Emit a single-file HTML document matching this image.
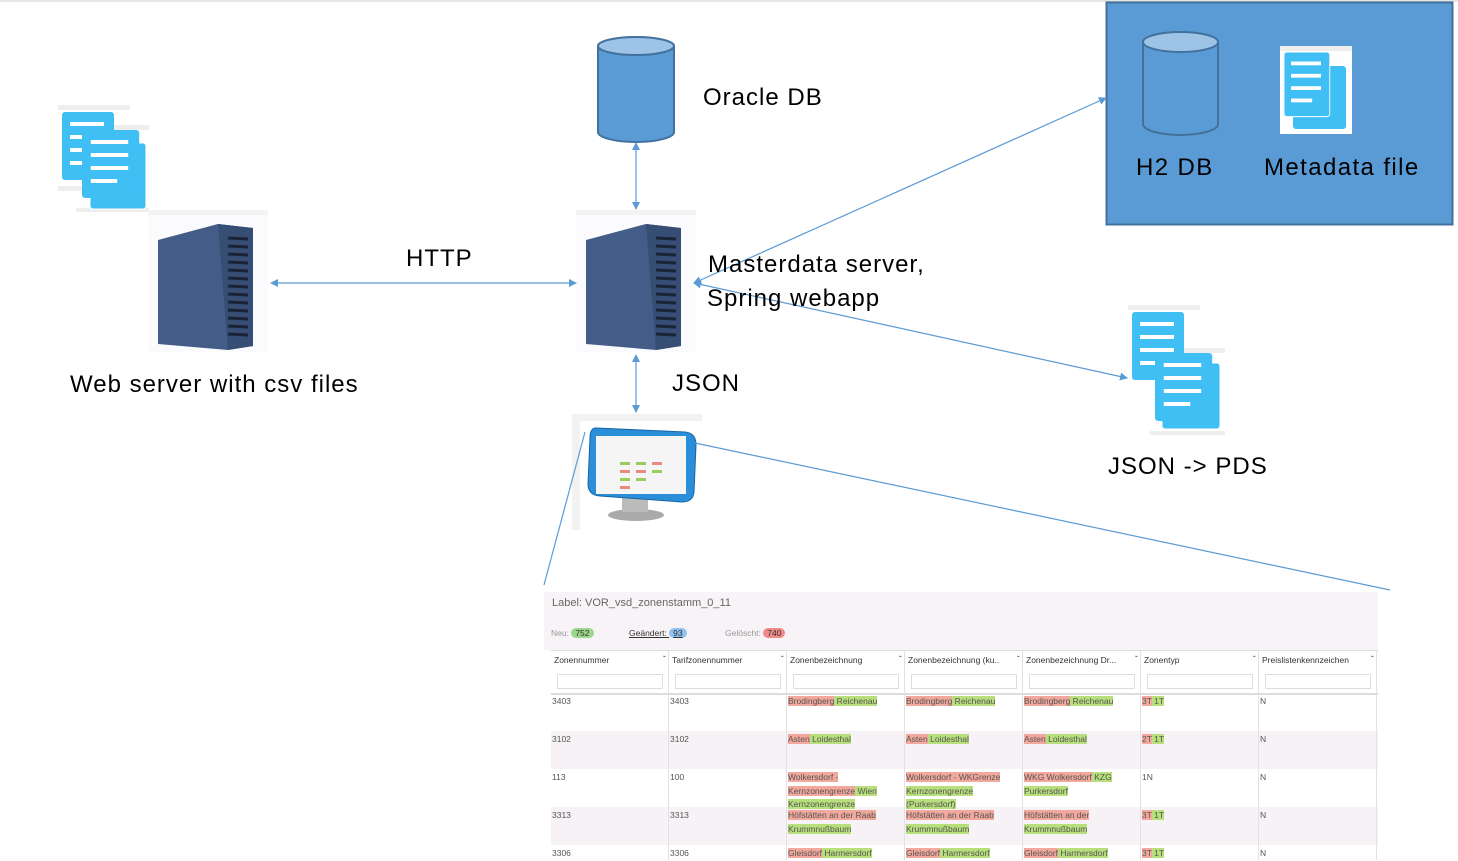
<!DOCTYPE html>
<html><head><meta charset="utf-8"><style>
body{margin:0;width:1458px;height:860px;position:relative;background:#fff;overflow:hidden;font-family:"Liberation Sans",sans-serif}
.t{position:absolute;font-size:24px;color:#000;white-space:nowrap;letter-spacing:1px}
.tbl{position:absolute;left:544px;top:592px;width:834px;height:268px;background:#fff;font-size:8.5px;color:#555}
.c{position:absolute;white-space:nowrap}
.r{background:#f2a89c}.g{background:#b7e07c}
</style></head><body>
<svg width="1458" height="860" style="position:absolute;left:0;top:0">
<defs>
<marker id="a" markerWidth="8" markerHeight="8" refX="7" refY="4" orient="auto-start-reverse" markerUnits="userSpaceOnUse"><path d="M0,0L8,4L0,8z" fill="#5b9bd5"/></marker>
<g id="doc"><rect x="0" y="0" width="52" height="68" rx="3" fill="#40bff5"/><g fill="#fff"><rect x="8" y="10" width="34" height="4"/><rect x="8" y="23" width="34" height="4"/><rect x="8" y="36" width="34" height="4"/><rect x="8" y="49" width="24" height="4"/></g></g>
<g id="srv"><rect x="0" y="0" width="120" height="142" fill="#f3f3f3"/><rect x="0" y="5" width="120" height="137" fill="#fbfbfd"/>
<path d="M10,30 L70,14 L105,18 L105,136 L80,140 L10,134z" fill="#435d88"/><path d="M70,14 L105,18 L105,136 L80,140z" fill="#364d74"/>
<g stroke="#1a2436" stroke-width="3">
<line x1="80" y1="28" x2="100" y2="29"/><line x1="80" y1="36" x2="100" y2="37"/><line x1="80" y1="44" x2="100" y2="45"/><line x1="80" y1="52" x2="100" y2="53"/><line x1="80" y1="60" x2="100" y2="61"/><line x1="80" y1="68" x2="100" y2="69"/><line x1="80" y1="76" x2="100" y2="77"/><line x1="80" y1="84" x2="100" y2="85"/><line x1="80" y1="92" x2="100" y2="93"/><line x1="80" y1="100" x2="100" y2="101"/><line x1="80" y1="108" x2="100" y2="109"/><line x1="80" y1="116" x2="100" y2="117"/><line x1="80" y1="124" x2="100" y2="125"/></g></g>
</defs>
<line x1="0" y1="1" x2="1458" y2="1" stroke="#ccc"/>
<rect x="1106.5" y="2.5" width="346" height="222" fill="#5b9bd5" stroke="#41719c" stroke-width="2"/>
<path d="M1143,42 L1143,124 A37.5,11 0 0 0 1218,124 L1218,42" fill="#5b9bd5" stroke="#41719c" stroke-width="2"/>
<ellipse cx="1180.5" cy="42" rx="37.5" ry="10" fill="#9dc3e6" stroke="#41719c" stroke-width="2"/>
<rect x="1280" y="46" width="72" height="88" fill="#fff"/><rect x="1280" y="46" width="72" height="5" fill="#eee"/>
<rect x="1293" y="66" width="53" height="63" rx="3" fill="#40bff5"/>
<g transform="translate(1284,52) scale(0.88,0.95)"><rect width="52" height="68" rx="3" fill="#40bff5" stroke="#fff" stroke-width="1"/><g fill="#fff"><rect x="8" y="10" width="34" height="4"/><rect x="8" y="23" width="34" height="4"/><rect x="8" y="36" width="34" height="4"/><rect x="8" y="49" width="24" height="4"/></g></g>
<path d="M598,46 L598,132 A38,10 0 0 0 674,132 L674,46" fill="#5b9bd5" stroke="#41719c" stroke-width="2"/>
<ellipse cx="636" cy="46" rx="38" ry="9" fill="#9dc3e6" stroke="#41719c" stroke-width="2"/>
<rect x="58" y="105" width="72" height="5" fill="#eee"/><rect x="58" y="186" width="30" height="5" fill="#eee"/>
<rect x="76" y="125" width="73" height="5" fill="#eee"/><rect x="76" y="208" width="73" height="4" fill="#eee"/>
<use href="#doc" x="62" y="112"/>
<rect x="90" y="143" width="56" height="66" rx="3" fill="#40bff5" stroke="#fff"/>
<g transform="translate(82,130) scale(1.1,1)"><use href="#doc"/></g>
<rect x="1128" y="305" width="72" height="5" fill="#eee"/><rect x="1150" y="348" width="75" height="5" fill="#eee"/><rect x="1150" y="431" width="75" height="4" fill="#eee"/>
<use href="#doc" x="1132" y="312"/>
<rect x="1162" y="363" width="58" height="66" rx="3" fill="#40bff5" stroke="#fff"/>
<g transform="translate(1155,353) scale(1.1,1)"><use href="#doc"/></g>
<use href="#srv" x="148" y="210"/>
<use href="#srv" x="576" y="210"/>
<rect x="572" y="414" width="130" height="116" fill="#f2f2f2"/><rect x="580" y="421" width="122" height="109" fill="#fff"/>
<ellipse cx="636" cy="515" rx="28" ry="6" fill="#aaa"/><rect x="622" y="496" width="26" height="16" fill="#bbb"/>
<path d="M596,428 L685,432 Q696,433 696,445 L694,492 Q693,502 682,502 L600,496 Q588,495 588,484 L590,438 Q590,428 596,428z" fill="#2a8fd8" stroke="#1565a8"/>
<rect x="596" y="436" width="90" height="58" fill="#f5f5f5"/>
<g fill="#9ccc5c"><rect x="620" y="462" width="10" height="3"/><rect x="636" y="462" width="10" height="3"/><rect x="620" y="478" width="10" height="3"/><rect x="636" y="478" width="10" height="3"/><rect x="652" y="470" width="10" height="3"/></g>
<g fill="#e88a80"><rect x="620" y="470" width="10" height="3"/><rect x="636" y="470" width="10" height="3"/><rect x="652" y="462" width="10" height="3"/><rect x="620" y="486" width="10" height="3"/></g>
<g stroke="#5b9bd5" stroke-width="1.2" fill="none">
<line x1="271" y1="283" x2="576" y2="283" marker-start="url(#a)" marker-end="url(#a)"/>
<line x1="636" y1="143" x2="636" y2="209" marker-start="url(#a)" marker-end="url(#a)"/>
<line x1="636" y1="355" x2="636" y2="412" marker-start="url(#a)" marker-end="url(#a)"/>
<line x1="694" y1="283" x2="1106" y2="98" marker-start="url(#a)" marker-end="url(#a)"/>
<line x1="694" y1="283" x2="1127" y2="378" marker-start="url(#a)" marker-end="url(#a)"/>
<line x1="585" y1="432" x2="544" y2="585"/>
<line x1="695" y1="443" x2="1390" y2="590"/>
</g>
</svg>
<div class="t" style="left:703px;top:84px">Oracle DB</div>
<div class="t" style="left:406px;top:245px">HTTP</div>
<div class="t" style="left:708px;top:251px">Masterdata server,</div>
<div class="t" style="left:707px;top:285px">Spring webapp</div>
<div class="t" style="left:70px;top:371px">Web server with csv files</div>
<div class="t" style="left:672px;top:370px">JSON</div>
<div class="t" style="left:1108px;top:453px">JSON -&gt; PDS</div>
<div class="t" style="left:1136px;top:154px;letter-spacing:1.4px">H2 DB</div>
<div class="t" style="left:1264px;top:154px;letter-spacing:1.4px">Metadata file</div>
<div class="tbl">
<div style="position:absolute;left:0;top:0;width:834px;height:58px;background:#f7f3f6"></div>
<div class="c" style="left:8px;top:5px;font-size:11px;color:#666">Label: VOR_vsd_zonenstamm_0_11</div>
<div class="c" style="left:7px;top:36px;color:#999">Neu: <span style="background:#9cd68c;border-radius:6px;padding:0 4px;color:#333">752</span></div>
<div class="c" style="left:85px;top:36px;color:#333;text-decoration:underline">Geändert: <span style="background:#8fc2f2;border-radius:6px;padding:0 4px;text-decoration:none">93</span></div>
<div class="c" style="left:181px;top:36px;color:#999">Gelöscht: <span style="background:#f08a8a;border-radius:6px;padding:0 4px;color:#333">740</span></div>
<div style="position:absolute;left:7px;top:58px;width:827px;height:42px;background:#fff;border-top:1px solid #ddd;border-bottom:2px solid #ddd"></div>
<div style="position:absolute;left:7px;top:139px;width:827px;height:38px;background:#f6f2f5"></div>
<div style="position:absolute;left:7px;top:215px;width:827px;height:38px;background:#f6f2f5"></div>
<div id="cols"></div>
</div>
<script>
var xs=[7,125,243,361,479,597,715],h=["Zonennummer","Tarifzonennummer","Zonenbezeichnung","Zonenbezeichnung (ku..","Zonenbezeichnung Dr...","Zonentyp","Preislistenkennzeichen"];
var rows=[["3403","3403",'<span class=r>Brodingberg</span><span class=g> Reichenau</span>','<span class=r>Brodingberg</span><span class=g> Reichenau</span>','<span class=r>Brodingberg</span><span class=g> Reichenau</span>','<span class=r>3T</span><span class=g> 1T</span>',"N"],
["3102","3102",'<span class=r>Asten</span><span class=g> Loidesthal</span>','<span class=r>Asten</span><span class=g> Loidesthal</span>','<span class=r>Asten</span><span class=g> Loidesthal</span>','<span class=r>2T</span><span class=g> 1T</span>',"N"],
["113","100",'<span class=r>Wolkersdorf -</span><br><span class=r>Kernzonengrenze</span><span class=g> Wien</span><br><span class=g>Kernzonengrenze</span>','<span class=r>Wolkersdorf - WKGrenze</span><br><span class=g>Kernzonengrenze</span><br><span class=g>(Purkersdorf)</span>','<span class=r>WKG Wolkersdorf</span><span class=g> KZG</span><br><span class=g>Purkersdorf</span>',"1N","N"],
["3313","3313",'<span class=r>Höfstätten an der Raab</span><br><span class=g>Krummnußbaum</span>','<span class=r>Höfstätten an der Raab</span><br><span class=g>Krummnußbaum</span>','<span class=r>Höfstätten an der</span><br><span class=g>Krummnußbaum</span>','<span class=r>3T</span><span class=g> 1T</span>',"N"],
["3306","3306",'<span class=r>Gleisdorf</span><span class=g> Harmersdorf</span>','<span class=r>Gleisdorf</span><span class=g> Harmersdorf</span>','<span class=r>Gleisdorf</span><span class=g> Harmersdorf</span>','<span class=r>3T</span><span class=g> 1T</span>',"N"]];
var s="";
for(var i=0;i<7;i++){var x=xs[i];
s+='<div class=c style="left:'+(x+3)+'px;top:63px;color:#333">'+h[i]+'</div><div class=c style="left:'+(x+112)+'px;top:62px;color:#333">&#711;</div>';
s+='<div style="position:absolute;left:'+(x+6)+'px;top:82px;width:104px;height:13px;border:1px solid #ddd;background:#fff"></div>';
s+='<div style="position:absolute;left:'+(x+117)+'px;top:58px;width:1px;height:210px;background:#e4e0e3"></div>';
for(var j=0;j<5;j++){s+='<div class=c style="left:'+(x+1)+'px;top:'+(103+j*38)+'px;line-height:13.5px;color:#555">'+rows[j][i]+'</div>';}}
document.getElementById("cols").innerHTML=s;
</script>
</body></html>
